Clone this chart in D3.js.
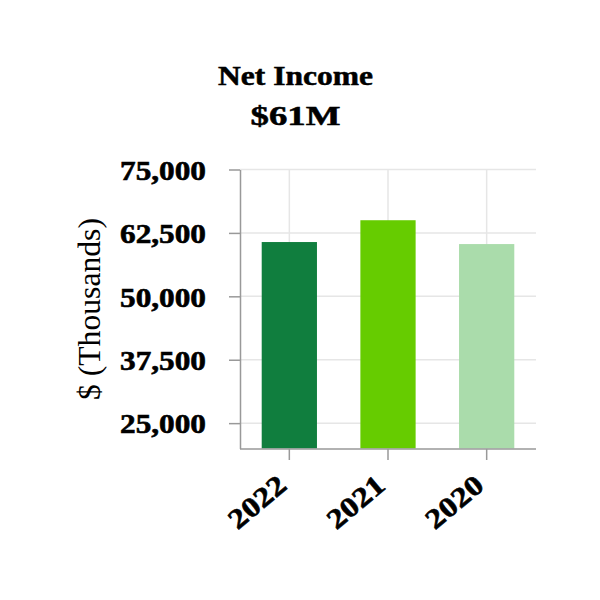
<!DOCTYPE html>
<html><head><meta charset="utf-8">
<script src="https://cdn.jsdelivr.net/npm/d3@7/dist/d3.min.js"></script>
<style>body{margin:0;background:#fff}svg{display:block}
text{font-family:"Liberation Serif","Times New Roman",Times,serif;}</style>
</head><body>
<script>
const categories = ["2022", "2021", "2020"];
const values = [60700, 65000, 60300];
const colors = ["#107e3e", "#66cc00", "#aadcab"];
const yTicks = [25000, 37500, 50000, 62500, 75000];
const titleLines = ["Net Income", "$61M"];
const yTitle = "$ (Thousands)";

const W = 600, H = 600;
const svg = d3.select("body").append("svg").attr("width", W).attr("height", H);
const serif = "Liberation Serif";

const x = d3.scaleBand().domain(categories).range([240, 536]).paddingInner(0.44).paddingOuter(0.22);
const y = d3.scaleLinear().domain([20000, 75000]).range([448.5, 169.5]);

// gridlines
svg.append("g").selectAll("line.h").data(yTicks).join("line")
  .attr("x1", 240).attr("x2", 536).attr("y1", d => y(d)).attr("y2", d => y(d))
  .attr("stroke", "#e6e6e6").attr("stroke-width", 1.5);
svg.append("g").selectAll("line.v").data(categories).join("line")
  .attr("x1", d => x(d) + x.bandwidth() / 2).attr("x2", d => x(d) + x.bandwidth() / 2)
  .attr("y1", 169.5).attr("y2", 448.5)
  .attr("stroke", "#e6e6e6").attr("stroke-width", 1.5);

// bars
svg.append("g").selectAll("rect").data(values).join("rect")
  .attr("x", (d, i) => x(categories[i]))
  .attr("width", x.bandwidth())
  .attr("y", d => y(d))
  .attr("height", d => y(20000) - y(d))
  .attr("fill", (d, i) => colors[i]);

// y axis
const yAxis = svg.append("g").attr("transform", "translate(240,0)")
  .call(d3.axisLeft(y).tickValues(yTicks).tickSize(11).tickSizeOuter(0).tickFormat(d3.format(",")));
yAxis.attr("font-family", null);
yAxis.select(".domain").attr("stroke", "#999").attr("stroke-width", 1.5);
yAxis.selectAll(".tick line").attr("stroke", "#999").attr("stroke-width", 1.5);
yAxis.selectAll(".tick text")
  .attr("x", -34).attr("dy", "0.35em")
  .style("font-family", serif).attr("font-weight", "bold").attr("font-size", 28)
  .attr("fill", "#000").attr("stroke", "#000").attr("stroke-width", 0.6)
  .attr("textLength", 86).attr("lengthAdjust", "spacingAndGlyphs");

// x axis
const xAxis = svg.append("g").attr("transform", "translate(0,449)")
  .call(d3.axisBottom(x).tickSize(11).tickSizeOuter(0));
xAxis.attr("font-family", null);
xAxis.select(".domain").attr("stroke", "#999").attr("stroke-width", 1.5)
  .attr("d", "M240,0H536");
xAxis.selectAll(".tick line").attr("stroke", "#999").attr("stroke-width", 1.5);
xAxis.selectAll(".tick text")
  .attr("y", 0).attr("dy", 0)
  .attr("transform", "translate(-1,39) rotate(-40)")
  .attr("text-anchor", "end")
  .style("font-family", serif).attr("font-weight", "bold").attr("font-size", 28)
  .attr("fill", "#000").attr("stroke", "#000").attr("stroke-width", 0.6)
  .attr("textLength", 66).attr("lengthAdjust", "spacingAndGlyphs");

// y title
svg.append("text")
  .attr("transform", "translate(100,309) rotate(-90)")
  .attr("text-anchor", "middle")
  .style("font-family", serif).attr("font-size", 31)
  .attr("textLength", 182).attr("lengthAdjust", "spacingAndGlyphs")
  .text(yTitle);

// title
const tw = [155, 90];
const tb = [85, 125];
svg.append("g").selectAll("text").data(titleLines).join("text")
  .attr("x", 295.5).attr("y", (d, i) => tb[i])
  .attr("text-anchor", "middle")
  .style("font-family", serif).attr("font-weight", "bold").attr("font-size", 27)
  .attr("stroke", "#000").attr("stroke-width", 0.5)
  .attr("textLength", (d, i) => tw[i]).attr("lengthAdjust", "spacingAndGlyphs")
  .text(d => d);
</script>
</body></html>
